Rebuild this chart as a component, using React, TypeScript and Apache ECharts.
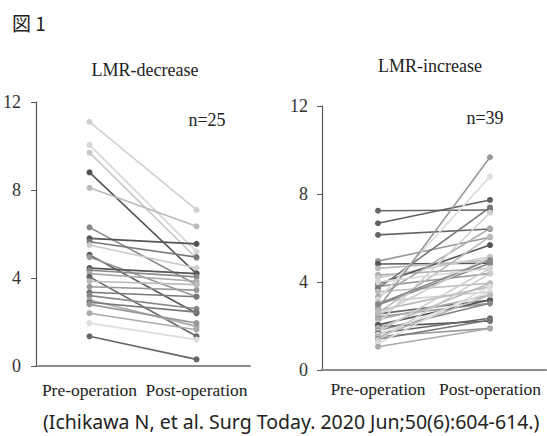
import React, { useEffect, useRef } from "react";
import * as echarts from "echarts";

const categories = ["Pre-operation", "Post-operation"];
const yTicks = [0, 4, 8, 12];

// LMR-decrease (n=25)
const decPre = [11.1, 10.05, 9.7, 8.8, 8.1, 6.3, 5.8, 5.65, 5.5, 5.05, 4.95, 4.45, 4.35, 4.2, 4.05, 3.85, 3.6, 3.35, 3.2, 3.0, 2.9, 2.8, 2.4, 1.95, 1.35];
const decPost = [7.1, 5.2, 4.9, 4.2, 6.35, 3.7, 5.55, 4.95, 4.45, 2.4, 3.15, 4.2, 4.05, 3.85, 1.35, 3.7, 3.45, 3.15, 2.6, 1.8, 2.45, 1.95, 1.65, 1.2, 0.3];

// LMR-increase (n=39)
const incPre = [7.24, 6.67, 6.14, 4.95, 4.82, 4.62, 4.32, 4.2, 3.91, 3.8, 3.71, 3.56, 3.33, 3.2, 3.1, 2.95, 2.8, 2.7, 2.55, 2.5, 2.42, 2.3, 2.12, 2.05, 1.97, 1.9, 1.8, 1.74, 1.67, 1.6, 1.52, 1.5, 1.4, 1.36, 1.2, 1.06, 2.6, 3.0, 4.0];
const incPost = [7.27, 7.73, 6.41, 6.03, 4.85, 5.0, 4.62, 5.15, 5.68, 4.39, 7.39, 3.94, 6.44, 8.79, 3.56, 4.85, 9.67, 3.79, 3.18, 5.15, 3.03, 3.41, 7.15, 3.18, 2.23, 3.94, 3.03, 4.62, 2.35, 3.56, 1.89, 3.41, 2.27, 4.39, 3.79, 1.89, 6.06, 5.0, 4.62];

const decShades = ["#d0d0d0", "#d6d6d6", "#c8c8c8", "#555555", "#bbbbbb", "#888888", "#555555", "#777777", "#cccccc", "#555555", "#999999", "#555555", "#888888", "#aaaaaa", "#666666", "#bbbbbb", "#999999", "#777777", "#888888", "#aaaaaa", "#777777", "#999999", "#aaaaaa", "#dddddd", "#666666"];
const incShades = ["#666666", "#606060", "#666666", "#999999", "#555555", "#bbbbbb", "#aaaaaa", "#cccccc", "#555555", "#999999", "#777777", "#bbbbbb", "#aaaaaa", "#dddddd", "#cccccc", "#888888", "#999999", "#bbbbbb", "#666666", "#cccccc", "#999999", "#aaaaaa", "#d0d0d0", "#555555", "#555555", "#bbbbbb", "#888888", "#cccccc", "#666666", "#dddddd", "#999999", "#bbbbbb", "#777777", "#cccccc", "#dddddd", "#aaaaaa", "#bbbbbb", "#888888", "#d8d8d8"];

const SERIF = "Liberation Serif";

function axisPair(gridIndex: number, xMargin: number, yMargin: number) {
  return {
    x: {
      type: "category",
      gridIndex,
      data: categories,
      boundaryGap: true,
      axisLine: { show: true, lineStyle: { color: "#8a8a8a", width: 2 } },
      axisTick: { show: false },
      axisLabel: { color: "#222", fontFamily: SERIF, fontSize: 17.5, margin: xMargin, interval: 0, hideOverlap: false },
      splitLine: { show: false },
    },
    y: {
      type: "value",
      gridIndex,
      min: 0,
      max: 12,
      interval: 4,
      axisLine: { show: true, lineStyle: { color: "#555", width: 1.2 } },
      axisTick: { show: true, length: 5, lineStyle: { color: "#555" } },
      axisLabel: {
        color: "#333",
        fontFamily: SERIF,
        fontSize: 18,
        margin: yMargin,
        formatter: (v: number) => (yTicks.includes(v) ? String(v) : ""),
      },
      splitLine: { show: false },
    },
  };
}

function buildSeries(pre: number[], post: number[], shades: string[], idx: number) {
  return pre.map((p, i) => ({
    type: "line",
    xAxisIndex: idx,
    yAxisIndex: idx,
    data: [p, post[i]],
    symbol: "circle",
    symbolSize: 6,
    lineStyle: { color: shades[i], width: 1.6 },
    itemStyle: { color: shades[i] },
    emphasis: { disabled: true },
    silent: true,
    z: 2,
  }));
}

function label(x: number, y: number, text: string, size: number, family: string, align = "center") {
  return {
    type: "text",
    x,
    y,
    style: { text, fontSize: size, fontFamily: family, fill: "#222", align, verticalAlign: "middle" },
  };
}

export default function App() {
  const ref = useRef<HTMLDivElement>(null);
  useEffect(() => {
    if (!ref.current) return;
    const chart = echarts.init(ref.current, undefined, { renderer: "svg" });
    const a0 = axisPair(0, 15, 15);
    const a1 = axisPair(1, 10, 14);
    chart.setOption({
      animation: false,
      backgroundColor: "#ffffff",
      grid: [
        { left: 30, top: 102, width: 220, height: 264 },
        { left: 322, top: 106, width: 224, height: 264 },
      ],
      xAxis: [a0.x, a1.x],
      yAxis: [a0.y, a1.y],
      series: [
        ...buildSeries(decPre, decPost, decShades, 0),
        ...buildSeries(incPre, incPost, incShades, 1),
      ],
      graphic: [
        label(12, 22, "図 1", 19, "Noto Sans CJK JP", "left"),
        label(145, 70, "LMR-decrease", 18, SERIF),
        label(430, 66, "LMR-increase", 18, SERIF),
        label(207, 120, "n=25", 18, SERIF),
        label(485, 118, "n=39", 18, SERIF),
        label(43, 421, "(Ichikawa N, et al. Surg Today. 2020 Jun;50(6):604-614.)", 19.5, "Noto Sans", "left"),
      ],
    });
    return () => chart.dispose();
  }, []);
  return <div ref={ref} style={{ position: "absolute", left: 0, top: 0, width: 547, height: 436 }} />;
}
